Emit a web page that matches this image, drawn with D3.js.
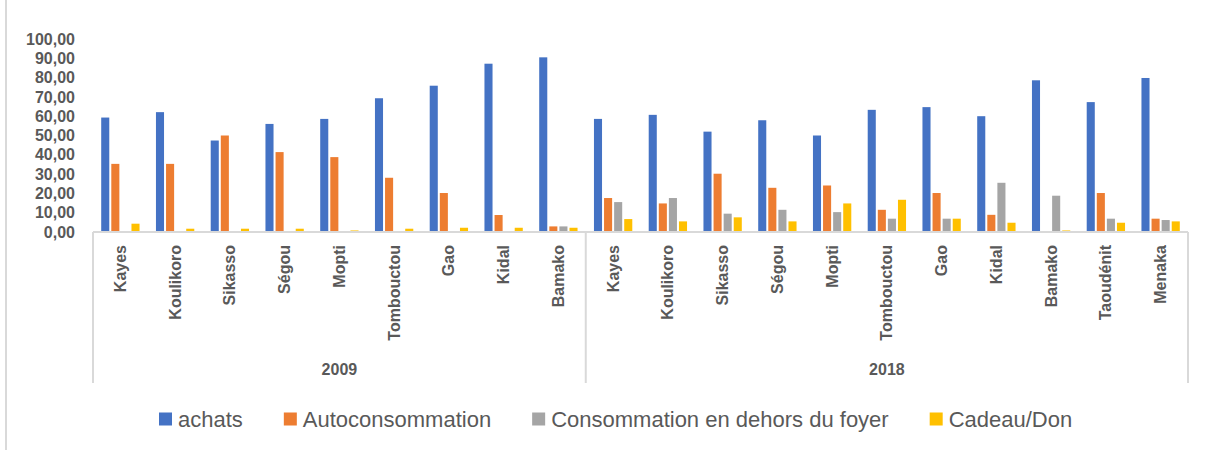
<!DOCTYPE html>
<html>
<head>
<meta charset="utf-8">
<script src="https://cdn.jsdelivr.net/npm/d3@7"></script>
<style>
	body { margin: 0; background: #fff; }
	svg { display: block; }
	text { font-family: "Liberation Sans", Arial, sans-serif; fill: #595959; }
</style>
</head>
<body>
<div id="chart"></div>
<script>

// Data
var years = ['2009', '2018'];
var regions2009 = ['Kayes', 'Koulikoro', 'Sikasso', 'Ségou', 'Mopti', 'Tombouctou', 'Gao', 'Kidal', 'Bamako'];
var regions2018 = ['Kayes', 'Koulikoro', 'Sikasso', 'Ségou', 'Mopti', 'Tombouctou', 'Gao', 'Kidal', 'Bamako', 'Taoudénit', 'Menaka'];
var seriesNames = ['achats', 'Autoconsommation', 'Consommation en dehors du foyer', 'Cadeau/Don'];
var seriesColors = ['#4472C4', '#ED7D31', '#A5A5A5', '#FFC000'];

var achats = [59.3, 62.1, 47.4, 56.0, 58.6, 69.3, 75.8, 87.2, 90.5,
	58.6, 60.7, 52.0, 57.9, 50.0, 63.3, 64.7, 60.0, 78.6, 67.3, 79.8];
var autoconsommation = [35.3, 35.3, 50.0, 41.4, 38.8, 28.1, 20.2, 8.8, 2.9,
	17.6, 14.8, 30.2, 22.9, 24.1, 11.5, 20.2, 8.9, 0, 20.2, 6.9];
var horsFoyer = [0, 0, 0, 0, 0, 0, 0, 0, 2.9,
	15.5, 17.6, 9.5, 11.5, 10.3, 6.9, 6.9, 25.5, 18.8, 6.9, 6.2];
var cadeauDon = [4.3, 1.7, 1.7, 1.7, 0.8, 1.7, 2.2, 2.2, 2.2,
	6.7, 5.5, 7.6, 5.5, 14.8, 16.7, 6.9, 4.8, 0.8, 4.8, 5.5];

var yTicks = [0, 10, 20, 30, 40, 50, 60, 70, 80, 90, 100];


var Chart = (function() {

	var width = 1206, height = 450;
	var left = 93, right = 1188, base = 232, top = 39;
	var svg;

	function init(rootEl) {
		svg = d3.select(rootEl).append('svg')
			.attr('width', width)
			.attr('height', height);
	}

	function draw() {

		// flat list of categories: one per (year, region)
		var cats = [];
		regions2009.forEach((r) => cats.push({ year: years[0], region: r }));
		regions2018.forEach((r) => cats.push({ year: years[1], region: r }));
		cats.forEach((c, i) => c.key = c.year + '|' + c.region + '|' + i);

		var values = [achats, autoconsommation, horsFoyer, cadeauDon];

		var x0 = d3.scaleBand()
			.domain(cats.map((c) => c.key))
			.range([left, right])
			.paddingInner(0.3)
			.paddingOuter(0.15);

		var x1 = d3.scaleBand()
			.domain(seriesNames)
			.range([0, x0.bandwidth()])
			.paddingInner(0.2);

		var y = d3.scaleLinear()
			.domain([0, 100])
			.range([base, top]);

		var color = d3.scaleOrdinal().domain(seriesNames).range(seriesColors);

		// outer border on the left
		svg.append('line')
			.attr('x1', 6).attr('x2', 6)
			.attr('y1', 0).attr('y2', height)
			.attr('stroke', '#D9D9D9').attr('stroke-width', 2);

		// y axis labels
		var yAxis = d3.axisLeft(y)
			.tickValues(yTicks)
			.tickSize(0)
			.tickPadding(0)
			.tickFormat((d) => d3.format('.2f')(d).replace('.', ','));

		svg.append('g')
			.attr('transform', 'translate(75,0)')
			.call(yAxis)
			.call((g) => g.select('.domain').remove())
			.selectAll('text')
			.attr('font-family', '"Liberation Sans", Arial, sans-serif')
			.attr('font-size', 16)
			.attr('font-weight', 'bold')
			.attr('fill', '#595959');

		// bars
		var groups = svg.append('g')
			.selectAll('g')
			.data(cats)
			.enter()
			.append('g')
			.attr('transform', (d) => 'translate(' + x0(d.key) + ',0)');

		groups.selectAll('rect')
			.data((d, i) => seriesNames.map((s, k) => ({ series: s, value: values[k][i] })))
			.enter()
			.append('rect')
			.attr('x', (d) => x1(d.series))
			.attr('width', x1.bandwidth())
			.attr('y', (d) => y(d.value))
			.attr('height', (d) => y(0) - y(d.value))
			.attr('fill', (d) => color(d.series));

		// category axis line and year dividers
		var axisColor = '#D9D9D9';
		svg.append('line')
			.attr('x1', left).attr('x2', right)
			.attr('y1', base).attr('y2', base)
			.attr('stroke', axisColor).attr('stroke-width', 2);

		var divX = [left, x0(cats[regions2009.length].key) - x0.step() * x0.paddingInner() / 2, right];
		svg.selectAll('.div-line')
			.data(divX)
			.enter()
			.append('line')
			.attr('class', 'div-line')
			.attr('x1', (d) => d).attr('x2', (d) => d)
			.attr('y1', base).attr('y2', 383)
			.attr('stroke', axisColor).attr('stroke-width', 2);

		// region labels, rotated
		svg.append('g')
			.selectAll('text')
			.data(cats)
			.enter()
			.append('text')
			.attr('transform', (d) => 'translate(' + (x0(d.key) + x0.bandwidth() / 2) + ',245) rotate(-90)')
			.attr('text-anchor', 'end')
			.attr('dy', '0.35em')
			.attr('font-size', 16)
			.attr('font-weight', 'bold')
			.text((d) => d.region);

		// year labels
		svg.append('g')
			.selectAll('text')
			.data(years)
			.enter()
			.append('text')
			.attr('x', (d, i) => (divX[i] + divX[i + 1]) / 2)
			.attr('y', 369)
			.attr('dy', '0.35em')
			.attr('text-anchor', 'middle')
			.attr('font-size', 16)
			.attr('font-weight', 'bold')
			.text((d) => d);

		// legend
		var legend = svg.append('g').attr('transform', 'translate(159,419)');
		var lx = 0;
		seriesNames.forEach((s) => {
			var item = legend.append('g').attr('transform', 'translate(' + lx + ',0)');
			item.append('rect')
				.attr('x', 0).attr('y', -6.5)
				.attr('width', 13).attr('height', 13)
				.attr('fill', color(s));
			var t = item.append('text')
				.attr('x', 19)
				.attr('dy', '0.35em')
				.attr('font-size', 22)
				.text(s);
			lx += 19 + t.node().getComputedTextLength() + 41;
		});
	}

	return {init, draw};
})();

Chart.init(document.getElementById('chart'));
Chart.draw();

</script>
</body>
</html>
